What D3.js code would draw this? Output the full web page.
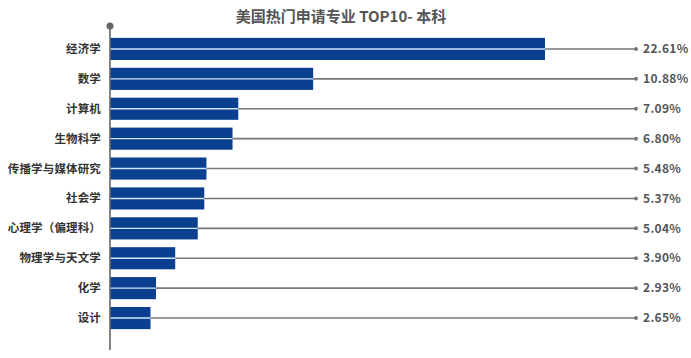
<!DOCTYPE html>
<html><head><meta charset="utf-8">
<script src="https://cdn.jsdelivr.net/npm/d3@7"></script>
<style>body{margin:0;background:#fff;} svg{display:block;font-family:"Noto Sans CJK SC","Noto Sans",sans-serif;}</style>
</head><body>
<svg id="c" width="691" height="358"></svg>
<script>
const title = "美国热门申请专业 TOP10- 本科";
const categories = ["经济学","数学","计算机","生物科学","传播学与媒体研究","社会学","心理学（偏理科）","物理学与天文学","化学","设计"];
const values = [22.61,10.88,7.09,6.80,5.48,5.37,5.04,3.90,2.93,2.65];
const valueLabels = ["22.61%","10.88%","7.09%","6.80%","5.48%","5.37%","5.04%","3.90%","2.93%","2.65%"];

const svg = d3.select("#c");
const axisX = 110, lineEnd = 636;
const x = d3.scaleLinear().domain([0.6, 22.61]).range([axisX, 545]);
const y = d3.scaleBand().domain(categories).range([34, 333]).paddingInner(0.26).paddingOuter(0.13);

svg.append("text").attr("x", 341).attr("y", 22).attr("text-anchor","middle")
  .attr("font-size", 15).attr("font-weight", 700).attr("fill", "#555").text(title);

const data = categories.map((c,i)=>({c, v: values[i], l: valueLabels[i]}));

svg.selectAll(".lead").data(data).join("line")
  .attr("x1", d=>x(d.v)).attr("x2", lineEnd)
  .attr("y1", d=>y(d.c)+y.bandwidth()/2).attr("y2", d=>y(d.c)+y.bandwidth()/2)
  .attr("stroke", "#777").attr("stroke-width", 1.6);
svg.selectAll(".dot").data(data).join("circle")
  .attr("cx", lineEnd).attr("cy", d=>y(d.c)+y.bandwidth()/2).attr("r", 2).attr("fill", "#777");

svg.selectAll(".bar").data(data).join("rect")
  .attr("x", axisX).attr("y", d=>y(d.c))
  .attr("width", d=>x(d.v)-axisX).attr("height", y.bandwidth())
  .attr("fill", "#0b3f8f");
svg.selectAll(".inner").data(data).join("line")
  .attr("x1", axisX).attr("x2", d=>x(d.v))
  .attr("y1", d=>y(d.c)+y.bandwidth()/2).attr("y2", d=>y(d.c)+y.bandwidth()/2)
  .attr("stroke", "#cfe7f8").attr("stroke-width", 1.4);

svg.append("line").attr("x1", axisX).attr("x2", axisX).attr("y1", 26).attr("y2", 350)
  .attr("stroke", "#666").attr("stroke-width", 1.6);
svg.append("circle").attr("cx", axisX).attr("cy", 26).attr("r", 3.5).attr("fill", "#666");

svg.selectAll(".lab").data(data).join("text")
  .attr("x", 101).attr("y", d=>y(d.c)+y.bandwidth()/2).attr("dy","0.35em")
  .attr("text-anchor","end").attr("font-size", 11.5).attr("font-weight", 700)
  .attr("fill", "#333").attr("letter-spacing", 0.15).text(d=>d.c);

svg.selectAll(".val").data(data).join("text")
  .attr("x", 643).attr("y", d=>y(d.c)+y.bandwidth()/2).attr("dy","0.35em")
  .attr("font-size", 12).attr("font-weight", 700).attr("fill", "#555")
  .attr("letter-spacing", 0.3).text(d=>d.l);
</script>
</body></html>
